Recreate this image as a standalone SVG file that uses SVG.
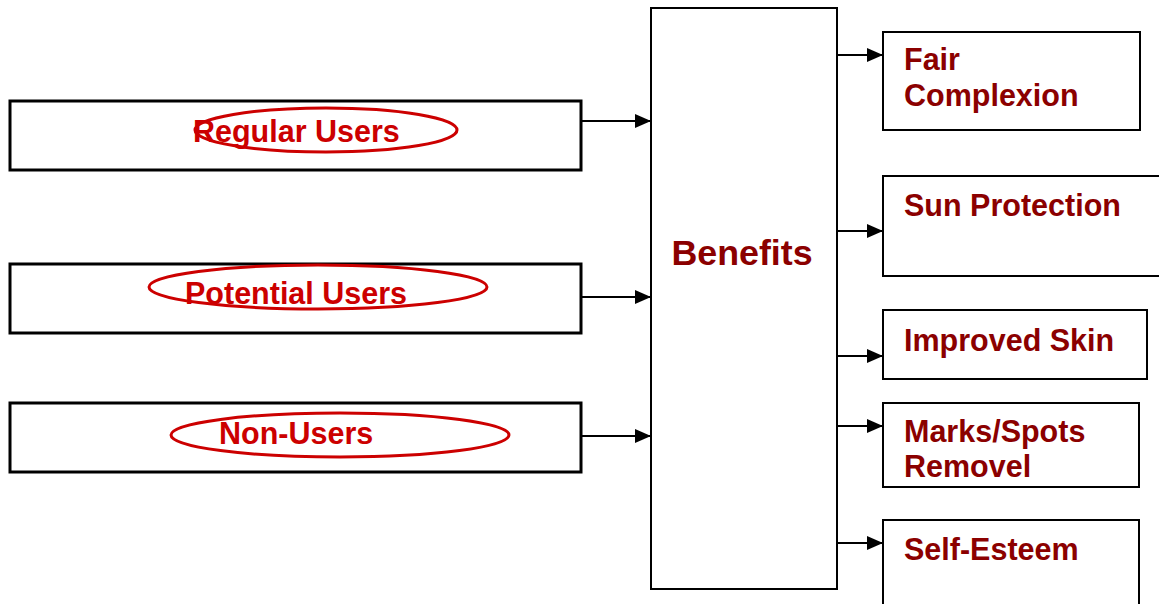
<svg xmlns="http://www.w3.org/2000/svg" width="1159" height="604" viewBox="0 0 1159 604">
<defs>
<marker id="ah" markerWidth="16" markerHeight="14" refX="16" refY="7" orient="auto" markerUnits="userSpaceOnUse">
<path d="M0,0 L16,7 L0,14 Z" fill="#000"/>
</marker>
<style>
.lbox{fill:#fff;stroke:#000;stroke-width:3}
.rbox{fill:#fff;stroke:#000;stroke-width:2}
.ell{fill:none;stroke:#cc0000;stroke-width:3}
.red{font-family:"Liberation Sans",Arial,sans-serif;font-weight:bold;font-size:30.5px;fill:#cc0000}
.dk{font-family:"Liberation Sans",Arial,sans-serif;font-weight:bold;font-size:30.5px;fill:#8b0000}
.con{stroke:#000;stroke-width:2;fill:none;marker-end:url(#ah)}
</style>
</defs>
<rect width="1159" height="604" fill="#fff"/>
<g id="regular-users">
<rect class="lbox" x="10" y="101" width="571" height="69"/>
<text class="red" x="193" y="142">Regular Users</text>
<ellipse class="ell" cx="326" cy="130" rx="131" ry="22"/>
</g>
<g id="potential-users">
<rect class="lbox" x="10" y="264" width="571" height="69"/>
<text class="red" x="185" y="304">Potential Users</text>
<ellipse class="ell" cx="318" cy="287" rx="169" ry="22"/>
</g>
<g id="non-users">
<rect class="lbox" x="10" y="403" width="571" height="69"/>
<text class="red" x="219" y="444">Non-Users</text>
<ellipse class="ell" cx="340" cy="435" rx="169" ry="22"/>
</g>
<g id="benefits">
<rect class="rbox" x="651" y="8" width="186" height="581"/>
<text x="742" y="265" text-anchor="middle" font-family="Liberation Sans, Arial, sans-serif" font-weight="bold" font-size="35.8" fill="#8b0000">Benefits</text>
</g>
<g id="fair-complexion">
<rect class="rbox" x="883" y="32" width="257" height="98"/>
<text class="dk" x="904" y="70">Fair</text>
<text class="dk" x="904" y="106">Complexion</text>
</g>
<g id="sun-protection">
<rect class="rbox" x="883" y="176" width="280" height="100"/>
<text class="dk" x="904" y="216">Sun Protection</text>
</g>
<g id="improved-skin">
<rect class="rbox" x="883" y="310" width="264" height="69"/>
<text class="dk" x="904" y="351">Improved Skin</text>
</g>
<g id="marks-spots">
<rect class="rbox" x="883" y="403" width="256" height="84"/>
<text class="dk" x="904" y="442">Marks/Spots</text>
<text class="dk" x="904" y="477">Removel</text>
</g>
<g id="self-esteem">
<rect class="rbox" x="883" y="520" width="256" height="100"/>
<text class="dk" x="904" y="560">Self-Esteem</text>
</g>
<g id="connectors">
<line class="con" x1="582" y1="121" x2="651" y2="121"/>
<line class="con" x1="582" y1="297" x2="651" y2="297"/>
<line class="con" x1="582" y1="436" x2="651" y2="436"/>
<line class="con" x1="837" y1="55" x2="883" y2="55"/>
<line class="con" x1="837" y1="231" x2="883" y2="231"/>
<line class="con" x1="837" y1="356" x2="883" y2="356"/>
<line class="con" x1="837" y1="426" x2="883" y2="426"/>
<line class="con" x1="837" y1="543" x2="883" y2="543"/>
</g>
</svg>
